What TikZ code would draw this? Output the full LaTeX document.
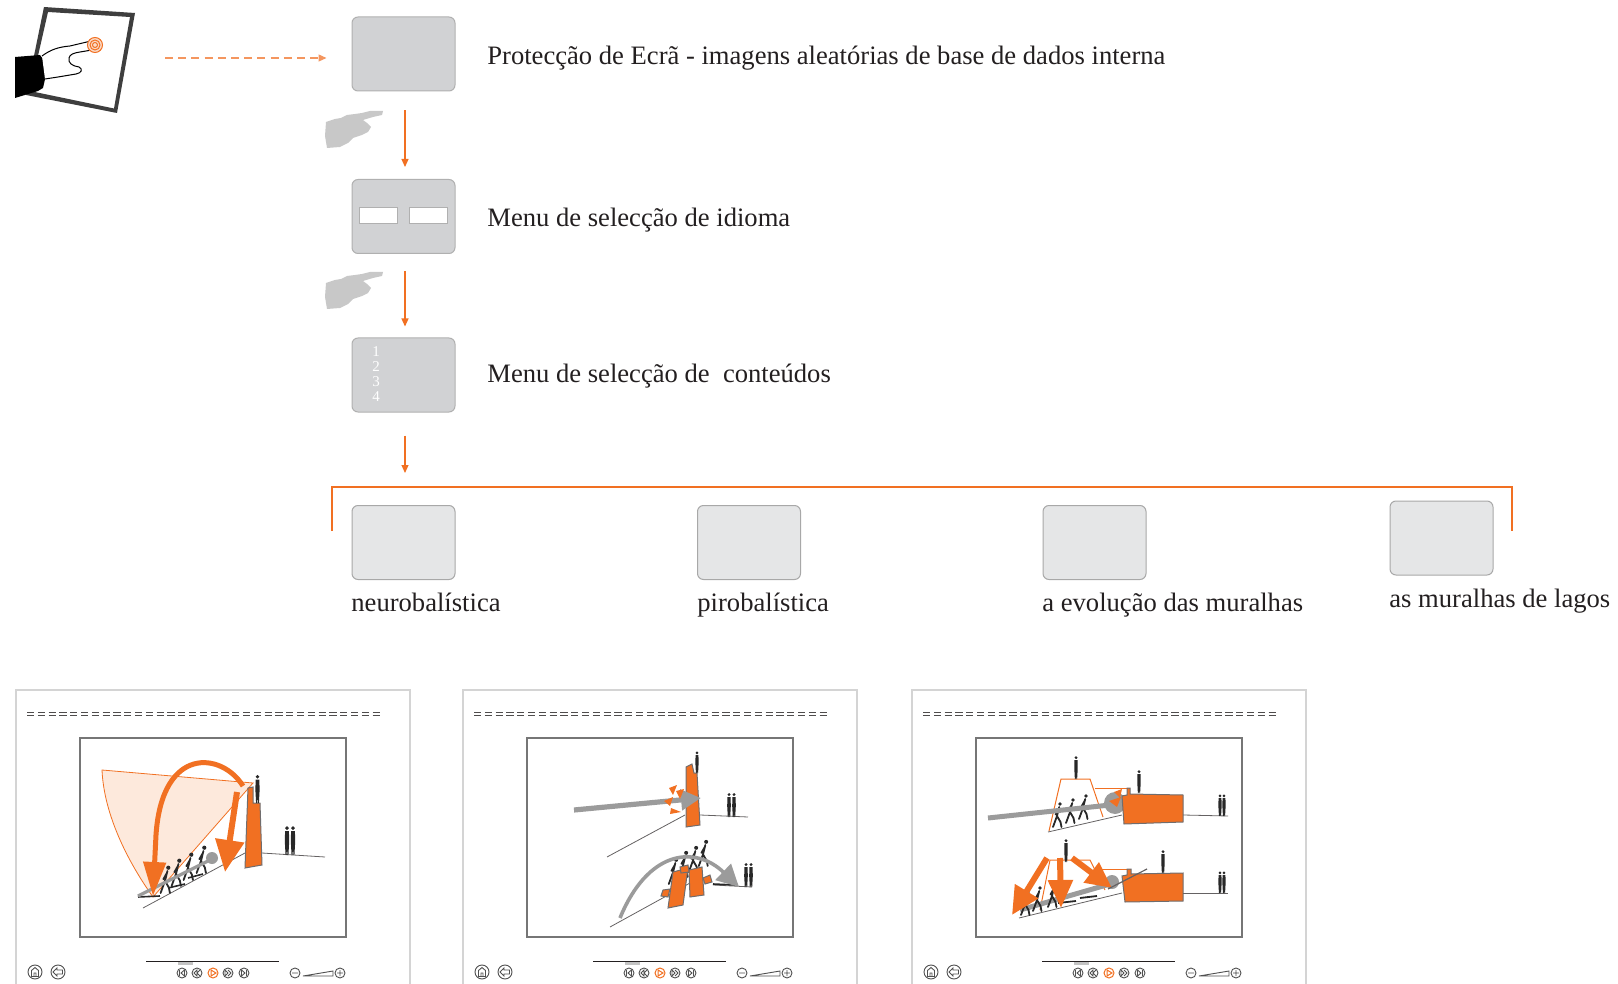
\documentclass[tikz,border=0pt]{standalone}
\usepackage{fontspec}
\setmainfont{Liberation Serif}
\usetikzlibrary{arrows.meta,calc}

\definecolor{orng}{RGB}{241,112,34}
\definecolor{orngl}{RGB}{244,150,95}
\definecolor{wedge}{RGB}{253,233,220}
\definecolor{boxfill}{RGB}{209,210,212}
\definecolor{boxline}{RGB}{176,176,176}
\definecolor{itemfill}{RGB}{229,230,231}
\definecolor{itemline}{RGB}{168,168,168}
\definecolor{ink}{RGB}{35,31,32}
\definecolor{panelline}{RGB}{212,212,212}
\definecolor{framec}{RGB}{118,118,118}
\definecolor{rodc}{RGB}{155,155,155}
\definecolor{handgray}{RGB}{200,200,200}
\definecolor{figc}{RGB}{40,40,40}
\definecolor{tabframe}{RGB}{62,62,62}
\definecolor{ctrlc}{RGB}{80,80,80}

\tikzset{
  box/.style={draw=boxline, fill=boxfill, rounded corners=3pt, line width=0.5pt,
              minimum width=51.5pt, minimum height=37pt, inner sep=0pt},
  itembox/.style={box, fill=itemfill, draw=itemline},
  langbtn/.style={draw=boxline, fill=white, line width=0.5pt, minimum width=19pt,
                  minimum height=8pt, inner sep=0pt},
  txt/.style={anchor=base west, inner sep=0pt, text=ink, font=\fontsize{13.3}{15.5}\selectfont},
  numtxt/.style={inner sep=0pt, text=white, font=\fontsize{7.5}{8}\selectfont},
  flow/.style={draw=orng, line width=0.6pt, -{Triangle[length=4pt,width=3.5pt]}},
  tapflow/.style={draw=orngl, line width=0.6pt, dash pattern=on 4pt off 2.6pt,
                  -{Triangle[length=4pt,width=3.5pt]}},
  bracketline/.style={draw=orng, line width=0.6pt},
  lineg/.style={draw=ink!70, line width=0.4pt},
  wallst/.style={fill=orng, draw=ink!65, line width=0.5pt},
  ctrl/.style={draw=ctrlc, line width=0.45pt},
  % standing figure, feet at the origin, about 24 units tall
  stand/.pic={
    \fill[figc] (0,-22.4) circle[radius=1.6];
    \fill[figc] (-1.6,-20) -- (1.6,-20) -- (1.8,-11) -- (1.2,0) -- (0.3,0) -- (0,-9)
      -- (-0.3,0) -- (-1.2,0) -- (-1.8,-11) -- cycle;
  },
  % walking figure, feet at the origin
  walker/.pic={
    \fill[figc] (3,-23) circle[radius=1.9];
    \draw[figc, line width=0.9pt, line cap=round, line join=round]
      (2.2,-20) -- (0,-11) -- (-4,0) (0,-11) -- (3.5,-5) -- (4.5,0)
      (1.6,-18) -- (-1.5,-12.5);
  },
  % grey pointing hand
  ghand/.pic={
    \fill[handgray] (1,11) -- (10,8) -- (16,7) -- (22,4) -- (30,3) -- (37,2) -- (45,0)
      -- (58,0) -- (57,4) -- (48,6) -- (38,9) -- (42,12) -- (46,16) -- (43,21) -- (37,24)
      -- (28,27) -- (23,32) -- (15,36) -- (2,37) -- (0,25) -- cycle;
  },
  % screen mock-up: outer page, title rule, image frame and player controls
  screen/.pic={
    \draw[panelline, line width=0.8pt] (16,984) -- (16,690) -- (410,690) -- (410,984);
    \draw[ink!80, line width=0.45pt, dash pattern=on 3.6pt off 1.8pt]
      (27,712) -- (383,712) (27,715.5) -- (383,715.5);
    \draw[framec, line width=0.75pt] (80,738) rectangle (346,937);
    % home and back
    \draw[ctrl] (35,972) circle[radius=7] (58,972) circle[radius=7];
    \draw[ctrl] (31.5,976.5) -- (31.5,970.5) -- (35,967.5) -- (38.5,970.5) -- (38.5,976.5) -- cycle
      (34,976.5) -- (34,973) -- (36,973) -- (36,976.5);
    \draw[ctrl] (53,972) -- (57,968) -- (57,970) -- (62.5,970) -- (62.5,974) -- (57,974) -- (57,976) -- cycle;
    % progress bar
    \draw[ink, line width=0.5pt] (146,961) -- (279,961);
    \fill[rodc!60] (178,962) rectangle (193,964.5);
    % playback buttons
    \draw[ctrl] (182,973) circle[radius=5] (197,973) circle[radius=5]
      (228,973) circle[radius=5] (244,973) circle[radius=5];
    \draw[draw=orng, line width=0.5pt] (213,973) circle[radius=5];
    \draw[ctrl] (179.5,970) -- (179.5,976) (184.5,970) -- (181,973) -- (184.5,976) -- cycle;
    \draw[ctrl] (197,970) -- (194,973) -- (197,976) -- cycle (200,970) -- (197,973) -- (200,976);
    \draw[orng, line width=0.5pt] (211,970) -- (216,973) -- (211,976) -- cycle;
    \draw[ctrl] (225,970) -- (228,973) -- (225,976) -- cycle (228,970) -- (231,973) -- (228,976);
    \draw[ctrl] (241.5,970) -- (245,973) -- (241.5,976) -- cycle (246.5,970) -- (246.5,976);
    % zoom slider
    \draw[ctrl] (295,973) circle[radius=5] (340,973) circle[radius=5]
      (292,973) -- (298,973) (337,973) -- (343,973) (340,970) -- (340,976);
    \draw[ctrl, fill=white] (303,976) -- (333,976) -- (333,971) -- cycle;
  }
}

\begin{document}
\begin{tikzpicture}[x=0.5pt, y=-0.5pt]
\useasboundingbox (0,0) rectangle (1618,984);

% ---------- touch screen with hand ----------
\fill[tabframe, even odd rule] (44,7) -- (135,13) -- (117,113) -- (26,95) -- cycle
  (48,12) -- (130,17) -- (114,108.5) -- (30,91) -- cycle;
\fill[black] (15,57) -- (40,55) -- (45,62) -- (46,75) -- (43,88) -- (38,91) -- (15,98) -- cycle;
\filldraw[fill=white, draw=black, line width=0.5pt]
  (42,56) .. controls (50,50) and (58,47) .. (70,46) -- (91,41)
  .. controls (98,40) and (99,49) .. (92,50) -- (80,52)
  .. controls (74,53) and (70,54) .. (69,58)
  .. controls (68,63) and (72,66) .. (79,67)
  .. controls (83,69) and (82,73) .. (76,74) -- (58,77) -- (45,79);
\fill[orng!25] (95,45) circle[radius=7.5];
\draw[orng, line width=0.5pt] (95,45) circle[radius=7.5] (95,45) circle[radius=5] (95,45) circle[radius=2.5];
\coordinate (tap) at (165,58);

% ---------- navigation flow ----------
\node[box] (scr) at (403.5,54) {};
\node[box] (lang) at (403.5,216.5) {};
\node[langbtn] (btnA) at (378,216) {};
\node[langbtn] (btnB) at (428,216) {};
\node[box] (cont) at (403.5,375) {};
\node[numtxt] (n1) at (376,352) {1};
\node[numtxt] (n2) at (376,367) {2};
\node[numtxt] (n3) at (376,382) {3};
\node[numtxt] (n4) at (376,397) {4};

\node[txt] (t1) at (487,65) {Protecção de Ecrã - imagens aleatórias de base de dados interna};
\node[txt] (t2) at (487,227) {Menu de selecção de idioma};
\node[txt] (t3) at (487,382) {Menu de selecção de\ \ conteúdos};

\pic at (325,111) {ghand};
\pic at (325,272) {ghand};

\draw[tapflow, shorten >=12.5pt] (tap) -- (scr.west |- tap);
\draw[flow, shorten <=9.5pt, shorten >=6pt] ([xshift=0.75pt]scr.south) -- ([xshift=0.75pt]lang.north);
\draw[flow, shorten <=8.5pt, shorten >=5.5pt] ([xshift=0.75pt]lang.south) -- ([xshift=0.75pt]cont.north);

\coordinate (brL) at (332,531);
\coordinate (brR) at (1512,531);
\coordinate (brT) at (405,487);
\draw[flow, shorten <=11.5pt, shorten >=7pt] ([xshift=0.75pt]cont.south) -- (brT);
\draw[bracketline] (brL) -- (332,487) -- (1512,487) -- (brR);

\node[itembox] (neuro) at (403.5,542.5) {};
\node[itembox] (piro) at (749,542.5) {};
\node[itembox] (evol) at (1094.5,542.5) {};
\node[itembox] (lagos) at (1441.5,538) {};
\node[txt] (l1) at (351,611) {neurobalística};
\node[txt] (l2) at (697,611) {pirobalística};
\node[txt] (l3) at (1042,611) {a evolução das muralhas};
\node[txt] (l4) at (1389,607) {as muralhas de lagos};

% ---------- screen mock-ups ----------
\pic at (0,0) {screen};
\pic at (447,0) {screen};
\pic at (896,0) {screen};

% scene 1: catapult over the wall
\filldraw[fill=wedge, draw=orng, line width=0.4pt] (102,770) -- (253,783) -- (153,897)
  .. controls (128,862) and (104,815) .. (102,770) -- cycle;
\draw[lineg] (143,908) -- (245,853);
\draw[lineg] (262,853) -- (325,857);
\draw[figc, line width=0.8pt] (138,897) -- (160,896) (168,888) -- (185,884) (188,878) -- (203,874);
\pic[scale=1.1] at (165,893) {walker};
\pic[scale=1.1] at (176,886) {walker};
\pic[scale=1.1] at (188,880) {walker};
\pic[scale=1.1] at (201,873) {walker};
\draw[rodc, line width=1.6pt] (138,896) -- (210,860);
\fill[rodc] (212,858) circle[radius=6];
\draw[orng, line width=2.5pt, -{Triangle[length=17pt,width=11pt]}]
  (243,786) .. controls (222,752) and (162,745) .. (156,835) -- (153,896);
\draw[orng, line width=3pt, -{Triangle[length=16pt,width=14pt]}] (237,792) -- (225,872);
\filldraw[wallst] (248,788) -- (253,787) -- (253,803) -- (260,803) -- (262,865) -- (245,868) -- cycle;
\pic[scale=1.17] at (257.5,803) {stand};
\pic[scale=1.2] at (287,855) {stand};
\pic[scale=1.2] at (293,855) {stand};

% scene 2: battering and breaching
\draw[lineg] (607,857) -- (685,815);
\draw[lineg] (700,815) -- (748,817);
\filldraw[wallst] (686,767) -- (692,764) -- (694,773) -- (697,773) -- (700,825) -- (686,827) -- cycle;
\draw[rodc, line width=2.6pt, -{Triangle[length=10pt,width=10pt]}] (574,810) -- (701,798);
\fill[orng] (669,788) -- (677,785) -- (673,795) -- cycle
  (664,801) -- (673,797) -- (670,806) -- cycle
  (671,808) -- (681,812) -- (670,814) -- cycle
  (676,791) -- (684,789) -- (680,799) -- cycle;
\pic[scale=0.9] at (697,773) {stand};
\pic at (729,817) {stand};
\pic at (734,817) {stand};

\draw[lineg] (610,927) -- (690,883);
\draw[lineg] (713,885) -- (752,887);
\draw[figc, line width=0.8pt] (713,884) -- (735,885);
\pic[scale=1.05] at (673,884) {walker};
\pic[scale=1.05] at (683,877) {walker};
\pic[scale=1.05] at (693,872) {walker};
\pic[scale=1.05] at (703,866) {walker};
\draw[rodc, line width=1.8pt, -{Triangle[length=11pt,width=11pt]}]
  (620,918) .. controls (648,850) and (695,845) .. (739,887);
\filldraw[wallst] (673,872) -- (688,868) -- (683,905) -- (668,908) -- cycle;
\filldraw[wallst] (689,870) -- (702,867) -- (704,895) -- (690,897) -- cycle;
\filldraw[wallst] (663,890) -- (670,889) -- (668,897) -- (661,896) -- cycle;
\filldraw[wallst] (703,878) -- (710,875) -- (712,882) -- (705,884) -- cycle;
\filldraw[wallst] (680,867) -- (688,865) -- (689,872) -- (681,873) -- cycle;
\pic at (746,887) {stand};
\pic at (751,887) {stand};

% scene 3: ram against the gate, defenders above
\draw[orng, line width=0.5pt] (1049,831) -- (1061,779) -- (1090,779) -- (1103,817);
\draw[orng, line width=0.5pt] (1095,788) -- (1127,788);
\draw[lineg] (1048,832) -- (1122,815);
\pic[scale=1.0] at (1057,827) {walker};
\pic[scale=1.0] at (1070,823) {walker};
\pic[scale=1.0] at (1083,819) {walker};
\draw[rodc, line width=2.5pt] (988,818) -- (1110,805);
\fill[rodc] (1115,803) circle[radius=11];
\fill[orng] (1109,801) -- (1121,797) -- (1117,807) -- cycle (1114,792) -- (1122,789) -- (1120,798) -- cycle;
\filldraw[wallst] (1122,796) -- (1127,795) -- (1127,788) -- (1130,788) -- (1130,794) -- (1183,795)
  -- (1183,822) -- (1124,824) -- cycle;
\pic[scale=0.95] at (1139,793) {stand};
\pic[scale=0.95] at (1076,779) {stand};
\draw[lineg] (1183,815) -- (1228,816);
\pic[scale=0.9] at (1220,816) {stand};
\pic[scale=0.9] at (1224,816) {stand};

\draw[orng, line width=0.5pt] (1040,910) -- (1050,860) -- (1090,860) -- (1105,890);
\draw[orng, line width=0.5pt] (1095,869) -- (1127,869);
\draw[lineg] (1019,918) -- (1122,893);
\draw[rodc, line width=2.5pt] (1020,910) -- (1110,884);
\fill[rodc] (1112,882) circle[radius=7];
\draw[figc, line width=0.9pt] (1058,903) -- (1076,901) (1080,898) -- (1097,896);
\pic at (1025,915) {walker};
\pic at (1037,911) {walker};
\pic at (1052,907) {walker};
\draw[orng, line width=3pt, -{Triangle[length=14pt,width=13pt]}] (1047,858) -- (1012,915);
\draw[orng, line width=3pt, -{Triangle[length=14pt,width=12pt]}] (1060,858) -- (1061,908);
\draw[orng, line width=3pt, -{Triangle[length=13pt,width=12pt]}] (1072,858) -- (1112,888);
\pic[scale=0.95] at (1066,862) {stand};
\filldraw[wallst] (1122,876) -- (1127,875) -- (1127,869) -- (1131,869) -- (1131,874) -- (1183,873)
  -- (1183,901) -- (1125,902) -- cycle;
\draw[ink!70, line width=0.6pt] (1108,889) -- (1147,869);
\pic[scale=0.95] at (1163,873) {stand};
\draw[lineg] (1183,893) -- (1228,893);
\pic[scale=0.9] at (1220,893) {stand};
\pic[scale=0.9] at (1224,893) {stand};
\end{tikzpicture}
\end{document}
